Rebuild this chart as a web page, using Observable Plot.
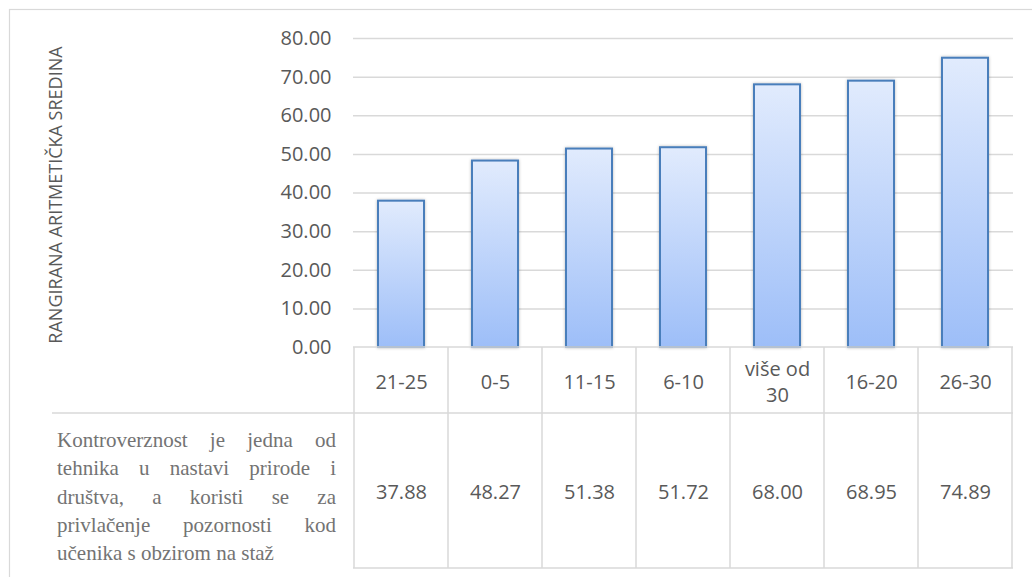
<!DOCTYPE html>
<html><head><meta charset="utf-8">
<script src="https://cdn.jsdelivr.net/npm/d3@7"></script>
<script src="https://cdn.jsdelivr.net/npm/@observablehq/plot@0.6"></script>
<style>
html,body{margin:0;padding:0;background:#fff;}
#chart svg{display:block;}
</style></head><body><div id="chart"></div>
<script>
// ---- data ----
const categories = ["21-25", "0-5", "11-15", "6-10", "više od 30", "16-20", "26-30"];
const values = [37.88, 48.27, 51.38, 51.72, 68.00, 68.95, 74.89];
const yTicks = [0, 10, 20, 30, 40, 50, 60, 70, 80];
const yTitle = "RANGIRANA ARITMETIČKA SREDINA";
const rowLabelLines = [
  "Kontroverznost je jedna od",
  "tehnika u nastavi prirode i",
  "društva, a koristi se za",
  "privlačenje pozornosti kod",
  "učenika s obzirom na staž"
];

const data = categories.map((c, i) => ({category: c, value: values[i]}));

const GRID = "#d9d9d9";
const TEXT = "#595959";
const fmt = d3.format(".2f");

// layout of the data table under the plot frame
const ROW1_H = 66;   // category row height
const ROW2_H = 155;  // value row height
const DESC_LEFT = 57, DESC_RIGHT = 336, DESC_LINE_START = 52;

function defsMark() {
  const svg = d3.create("svg:defs");
  const g = svg.append("linearGradient").attr("id", "barGrad")
    .attr("x1", 0).attr("y1", 0).attr("x2", 0).attr("y2", 1);
  g.append("stop").attr("offset", "0%").attr("stop-color", "#e1ebfd");
  g.append("stop").attr("offset", "100%").attr("stop-color", "#9dbef8");
  const f = svg.append("filter").attr("id", "barShadow")
    .attr("x", "-30%").attr("y", "-10%").attr("width", "160%").attr("height", "120%");
  f.append("feDropShadow").attr("dx", 0).attr("dy", 0).attr("stdDeviation", 1.4)
    .attr("flood-color", "#000").attr("flood-opacity", 0.28);
  return svg.node();
}

function borderMark(index, scales, values, dims) {
  return d3.create("svg:rect")
    .attr("x", 9.5).attr("y", 9.5)
    .attr("width", dims.width + 20).attr("height", dims.height + 20)
    .attr("fill", "none").attr("stroke", GRID).attr("stroke-width", 1.2).node();
}

function tableMark(index, scales, values, dims) {
  const x = scales.x;
  const bw = x.bandwidth ? x.bandwidth() : 0;
  const left = dims.marginLeft, right = dims.width - dims.marginRight;
  const top = dims.height - dims.marginBottom;
  const mid = top + ROW1_H, bottom = mid + ROW2_H;
  const g = d3.create("svg:g").attr("stroke", GRID).attr("stroke-width", 1.5).attr("fill", "none");
  const edges = categories.map(c => x(c)).concat([x(categories[categories.length - 1]) + bw]);
  edges.forEach(e => g.append("line").attr("x1", e).attr("x2", e).attr("y1", top).attr("y2", bottom));
  g.append("line").attr("x1", left).attr("x2", right).attr("y1", top).attr("y2", top);
  g.append("line").attr("x1", DESC_LINE_START).attr("x2", right).attr("y1", mid).attr("y2", mid);
  g.append("line").attr("x1", left).attr("x2", right).attr("y1", bottom).attr("y2", bottom);
  return g.node();
}

function descMark(index, scales, values, dims) {
  const top = dims.height - dims.marginBottom + ROW1_H;
  const g = d3.create("svg:g").attr("class", "desc")
    .attr("font-family", "'Liberation Serif', 'Times New Roman', serif")
    .attr("text-anchor", "start")
    .attr("font-size", 21).attr("fill", "#737373");
  rowLabelLines.forEach((t, i) => {
    g.append("text").attr("x", DESC_LEFT).attr("y", top + 34 + i * 28.3)
      .attr("text-anchor", "start")
      .attr("data-last", i === rowLabelLines.length - 1 ? "1" : "0")
      .text(t);
  });
  return g.node();
}

const plot = Plot.plot({
  width: 1032,
  height: 577,
  marginLeft: 353,
  marginRight: 19,
  marginTop: 38,
  marginBottom: 230,
  style: {fontFamily: "'Open Sans', sans-serif", color: TEXT, background: "#fff"},
  x: {type: "band", domain: categories, padding: 0, axis: null},
  y: {domain: [0, 80], axis: null},
  marks: [
    defsMark,
    borderMark,
    Plot.ruleY(yTicks.filter(d => d > 0), {stroke: GRID, strokeWidth: 1.5}),
    Plot.barY(data, {x: "category", y: "value", fill: "url(#barGrad)", stroke: "#4a7ebb",
      strokeWidth: 2, insetLeft: 24, insetRight: 24}),
    tableMark,
    Plot.text(yTicks, {y: d => d, text: d => fmt(d), frameAnchor: "left", dx: -22,
      textAnchor: "end", lineAnchor: "middle", fontSize: 20, fill: TEXT}),
    Plot.text(categories, {x: d => d, text: d => d, frameAnchor: "bottom", dy: 33,
      lineAnchor: "middle", lineWidth: 4, lineHeight: 1.3, fontSize: 20, fill: TEXT}),
    Plot.text(data, {x: "category", text: d => fmt(d.value), frameAnchor: "bottom", dy: 145,
      lineAnchor: "middle", fontSize: 20, fill: TEXT}),
    Plot.text([yTitle], {frameAnchor: "left", rotate: -90, dx: -297, dy: 2,
      textAnchor: "middle", lineAnchor: "middle", fontSize: 18, fill: TEXT}),
    descMark
  ]
});

document.getElementById("chart").appendChild(plot);

// bar shadows
d3.select(plot).selectAll('g[aria-label="bar"]').attr("filter", "url(#barShadow)");

// justify description lines
d3.select(plot).selectAll("g.desc text").each(function() {
  if (this.getAttribute("data-last") === "1") return;
  const txt = this.textContent;
  const spaces = (txt.match(/ /g) || []).length;
  if (!spaces) return;
  const len = this.getComputedTextLength();
  const extra = (DESC_RIGHT - DESC_LEFT - len) / spaces;
  this.setAttribute("word-spacing", extra);
});
</script>
</body></html>
